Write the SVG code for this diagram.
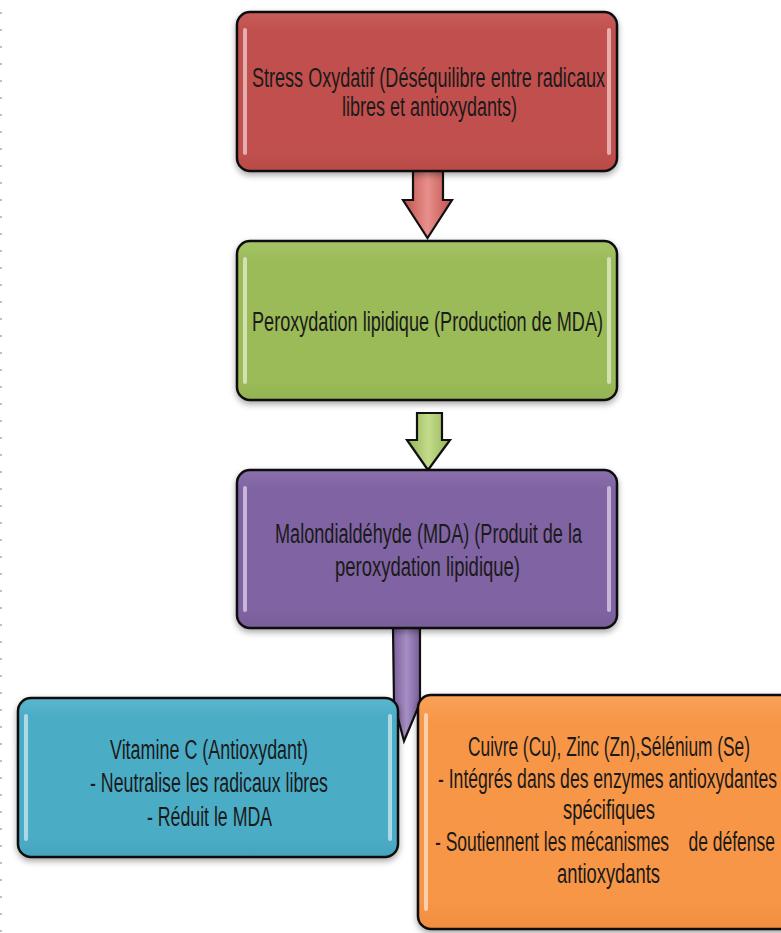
<svg xmlns="http://www.w3.org/2000/svg" width="781" height="933" viewBox="0 0 781 933">
<style>
  .box { stroke: #111; stroke-width: 2.5; }
  .hl { fill: #ffffff; opacity: 0.55; }
  .arrow { stroke: #111; stroke-width: 2.2; stroke-linejoin: miter; }
  text { font-family: "Liberation Sans Narrow", "Liberation Sans", Arial, sans-serif; font-size: 27px; fill: #1a1a1a; text-anchor: start; }
</style>
<defs>
  <filter id="sh" x="-10%" y="-10%" width="120%" height="130%">
    <feDropShadow dx="0" dy="3" stdDeviation="3" flood-color="#000" flood-opacity="0.35"/>
  </filter>
  <linearGradient id="gRed" x1="0" y1="0" x2="0" y2="1">
    <stop offset="0" stop-color="#c85d5a"/><stop offset="0.12" stop-color="#c0504d"/><stop offset="0.88" stop-color="#c0504d"/><stop offset="1" stop-color="#b94b48"/>
  </linearGradient>
  <linearGradient id="gGreen" x1="0" y1="0" x2="0" y2="1">
    <stop offset="0" stop-color="#a6c468"/><stop offset="0.12" stop-color="#9bbb59"/><stop offset="0.88" stop-color="#9bbb59"/><stop offset="1" stop-color="#93b352"/>
  </linearGradient>
  <linearGradient id="gPurple" x1="0" y1="0" x2="0" y2="1">
    <stop offset="0" stop-color="#8b70ad"/><stop offset="0.12" stop-color="#8064a2"/><stop offset="0.88" stop-color="#8064a2"/><stop offset="1" stop-color="#795e9a"/>
  </linearGradient>
  <linearGradient id="gBlue" x1="0" y1="0" x2="0" y2="1">
    <stop offset="0" stop-color="#5bb6ce"/><stop offset="0.12" stop-color="#4bacc6"/><stop offset="0.88" stop-color="#4bacc6"/><stop offset="1" stop-color="#45a4bd"/>
  </linearGradient>
  <linearGradient id="gOrange" x1="0" y1="0" x2="0" y2="1">
    <stop offset="0" stop-color="#f9a25a"/><stop offset="0.12" stop-color="#f79646"/><stop offset="0.88" stop-color="#f79646"/><stop offset="1" stop-color="#ef8e3f"/>
  </linearGradient>
  <linearGradient id="aRed" x1="0" y1="0" x2="1" y2="0">
    <stop offset="0" stop-color="#c0504d"/><stop offset="0.5" stop-color="#e8908c"/><stop offset="1" stop-color="#c0504d"/>
  </linearGradient>
  <linearGradient id="aGreen" x1="0" y1="0" x2="1" y2="0">
    <stop offset="0" stop-color="#93b352"/><stop offset="0.5" stop-color="#c3dc8c"/><stop offset="1" stop-color="#93b352"/>
  </linearGradient>
  <linearGradient id="aPurple" x1="0" y1="0" x2="1" y2="0">
    <stop offset="0" stop-color="#7a5e9c"/><stop offset="0.5" stop-color="#a58fc2"/><stop offset="1" stop-color="#7a5e9c"/>
  </linearGradient>
</defs>

<rect width="781" height="933" fill="#ffffff"/>
<line x1="1" y1="12" x2="1" y2="933" stroke="#a9c6e6" stroke-width="2" stroke-dasharray="2 15"/>

<g id="connectors">
  <path class="arrow" fill="url(#aRed)" d="M413,170 H443 V200 H452 L427.5,238 L403,200 H413 Z"/>
  <path class="arrow" fill="url(#aGreen)" d="M417,413 H442 V440 H450 L428,470 L407,440 H417 Z"/>
  <path class="arrow" fill="url(#aPurple)" d="M393,628 H420 V703 L404,741 L394,703 Z"/>
</g>

<g id="stress">
  <rect class="box" filter="url(#sh)" x="237" y="12" width="380" height="159" rx="13" fill="url(#gRed)"/>
  <rect class="hl" x="243" y="28" width="4" height="127" rx="2"/>
  <rect class="hl" x="607" y="28" width="4" height="127" rx="2"/>
  <text x="252" y="87" textLength="353" lengthAdjust="spacingAndGlyphs">Stress Oxydatif (Déséquilibre entre radicaux</text>
  <text x="342" y="116" textLength="175" lengthAdjust="spacingAndGlyphs">libres et antioxydants)</text>
</g>

<g id="peroxydation">
  <rect class="box" filter="url(#sh)" x="237" y="241" width="380" height="159" rx="13" fill="url(#gGreen)"/>
  <rect class="hl" x="243" y="257" width="4" height="127" rx="2"/>
  <rect class="hl" x="607" y="257" width="4" height="127" rx="2"/>
  <text x="252" y="331" textLength="351" lengthAdjust="spacingAndGlyphs">Peroxydation lipidique (Production de MDA)</text>
</g>

<g id="mda">
  <rect class="box" filter="url(#sh)" x="237" y="470" width="380" height="158" rx="13" fill="url(#gPurple)"/>
  <rect class="hl" x="243" y="486" width="4" height="126" rx="2"/>
  <rect class="hl" x="607" y="486" width="4" height="126" rx="2"/>
  <text x="275" y="543" textLength="307" lengthAdjust="spacingAndGlyphs">Malondialdéhyde (MDA) (Produit de la</text>
  <text x="335" y="576" textLength="185" lengthAdjust="spacingAndGlyphs">peroxydation lipidique)</text>
</g>

<g id="vitamine">
  <rect class="box" filter="url(#sh)" x="18" y="698" width="380" height="159" rx="13" fill="url(#gBlue)"/>
  <rect class="hl" x="24" y="714" width="4" height="127" rx="2"/>
  <rect class="hl" x="388" y="714" width="4" height="127" rx="2"/>
  <text x="110" y="759" textLength="198" lengthAdjust="spacingAndGlyphs">Vitamine C (Antioxydant)</text>
  <text x="90" y="792" textLength="238" lengthAdjust="spacingAndGlyphs">- Neutralise les radicaux libres</text>
  <text x="147" y="826" textLength="125" lengthAdjust="spacingAndGlyphs">- Réduit le MDA</text>
</g>

<g id="mineraux">
  <rect class="box" filter="url(#sh)" x="418" y="695" width="380" height="234" rx="13" fill="url(#gOrange)"/>
  <rect class="hl" x="424" y="713" width="4" height="198" rx="2"/>
  <text x="468" y="756" textLength="282" lengthAdjust="spacingAndGlyphs">Cuivre (Cu), Zinc (Zn),Sélénium (Se)</text>
  <text x="438" y="788" textLength="339" lengthAdjust="spacingAndGlyphs">- Intégrés dans des enzymes antioxydantes</text>
  <text x="563" y="819" textLength="92" lengthAdjust="spacingAndGlyphs">spécifiques</text>
  <text x="435" y="851" textLength="340" lengthAdjust="spacingAndGlyphs" style="white-space:pre">- Soutiennent les mécanismes    de défense</text>
  <text x="557" y="883" textLength="103" lengthAdjust="spacingAndGlyphs">antioxydants</text>
</g>
</svg>
